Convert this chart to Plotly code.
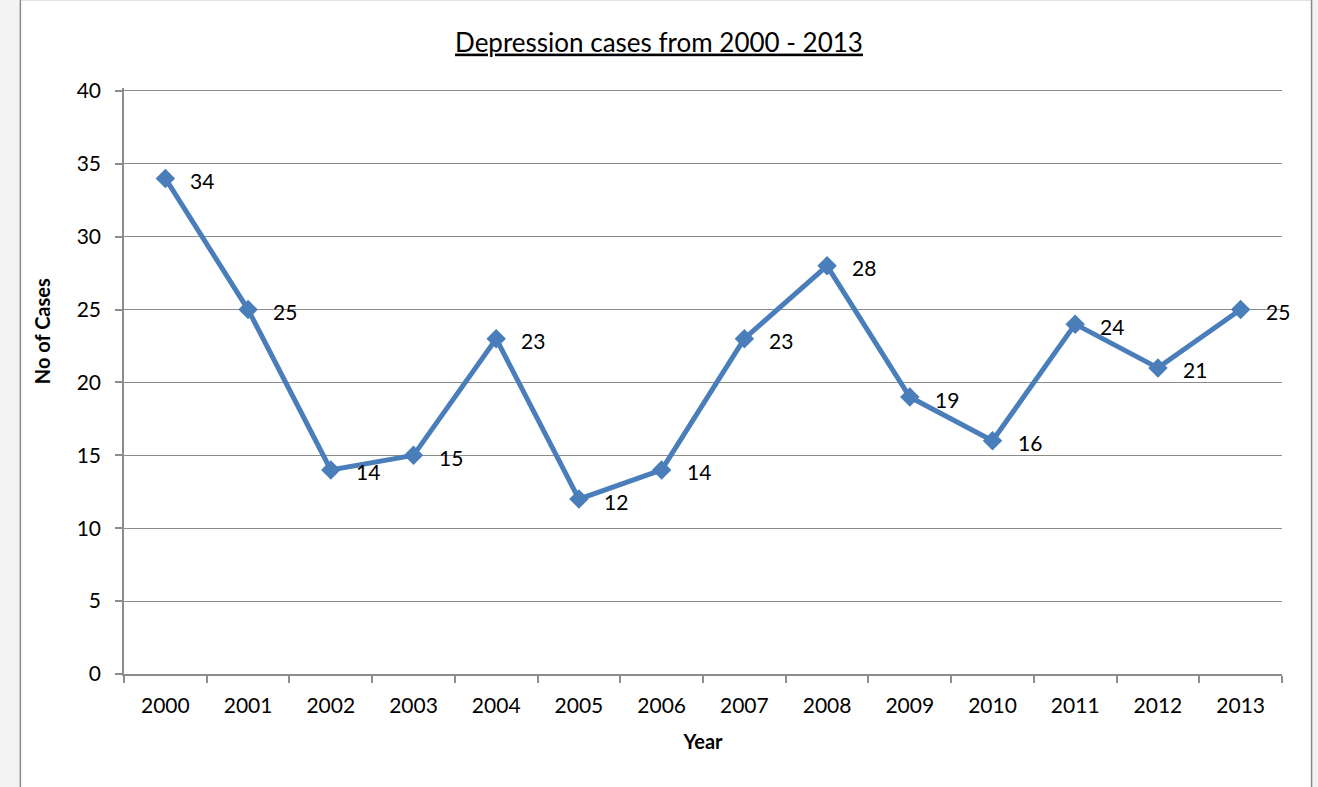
import plotly.graph_objects as go

years = ["2000", "2001", "2002", "2003", "2004", "2005", "2006", "2007",
         "2008", "2009", "2010", "2011", "2012", "2013"]
cases = [34, 25, 14, 15, 23, 12, 14, 23, 28, 19, 16, 24, 21, 25]
y_ticks = [0, 5, 10, 15, 20, 25, 30, 35, 40]

FONT = "Lato, Carlito, Calibri, sans-serif"
BLUE = "#4A7EBB"
GRID = "#8C8C8C"

fig = go.Figure()
fig.add_trace(go.Scatter(
    x=years, y=cases, mode="lines+markers",
    line=dict(color=BLUE, width=5),
    marker=dict(symbol="diamond", size=15, color=BLUE),
    showlegend=False, hoverinfo="x+y",
))

for i, v in enumerate(cases):
    fig.add_annotation(x=i, y=v, text=str(v), showarrow=False,
                       xanchor="left", yanchor="middle", xshift=23, yshift=-2,
                       font=dict(family=FONT, size=21, color="#000"))

# y-axis title placed like the original (above the axis centre)
fig.add_annotation(xref="paper", yref="paper", x=-0.0708, y=0.585, text="<b>No of Cases</b>",
                   textangle=-90, showarrow=False, xanchor="center", yanchor="middle",
                   font=dict(family=FONT, size=20, color="#000"))

fig.add_shape(type="rect", xref="paper", yref="paper",
              x0=-0.0895, x1=1.0255, y0=-0.2, y1=1.1512,
              line=dict(color="#8a8a8a", width=1.5), fillcolor="white", layer="below")

fig.update_layout(
    width=1318, height=787,
    margin=dict(l=124, r=36, t=88, b=113),
    paper_bgcolor="#f3f3f3", plot_bgcolor="rgba(0,0,0,0)",
    font=dict(family=FONT, size=21, color="#000"),
    title=dict(text="<u>Depression cases from 2000 - 2013</u>", x=0.5, xref="container",
               xanchor="center", y=0.946, yanchor="middle",
               font=dict(family=FONT, size=26, color="#000")),
    xaxis=dict(type="category", range=[-0.5, 13.5], showgrid=False,
               showline=True, linecolor=GRID, linewidth=1.5,
               ticks="outside", tickson="boundaries", ticklen=7, tickcolor=GRID,
               tickwidth=1.5, ticklabelstandoff=12,
               title=dict(text="<b>Year</b>", font=dict(family=FONT, size=20), standoff=19),
               tickfont=dict(family=FONT, size=21), fixedrange=True),
    yaxis=dict(range=[0, 40.2], tickvals=y_ticks, showgrid=True, gridcolor=GRID, gridwidth=1.2,
               showline=True, linecolor=GRID, linewidth=1.5, zeroline=False,
               ticks="outside", ticklen=7, tickcolor=GRID, tickwidth=1.5,
               ticklabelstandoff=10,
               tickfont=dict(family=FONT, size=21), fixedrange=True),
)

fig.write_html("out.html")
